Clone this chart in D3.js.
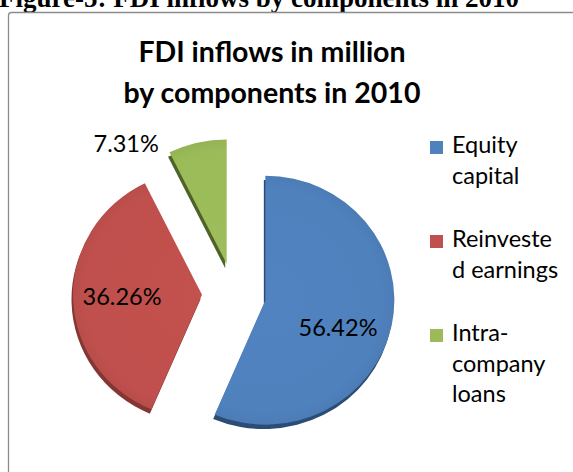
<!DOCTYPE html>
<html>
<head>
<meta charset="utf-8">
<script src="https://cdn.jsdelivr.net/npm/d3@7"></script>
<style>
  body { margin: 0; background: #fff; }
  svg { display: block; }
</style>
</head>
<body>
<div id="container"></div>
<script>
// data
let categories = ["Equity capital", "Reinvested earnings", "Intra-company loans"];
let shares = [56.42, 36.26, 7.31];
let legendLines = [["Equity", "capital"], ["Reinveste", "d earnings"], ["Intra-", "company", "loans"]];
let titleLines = ["FDI inflows in million", "by components in 2010"];
let caption = "Figure-5: FDI inflows by components in 2010";

let colors = ["#4f81bd", "#c0504d", "#9bbb59"];
let sideColors = ["#2b4c74", "#833633", "#4f6228"];

let w = 573;
let h = 472;
let cx = 234;
let cy = 294;
let r = 129;
let squash = 0.965;
let explode = 32;

let viz = d3.select("#container")
  .append("svg")
  .attr("width", w)
  .attr("height", h);

// caption, cut off at the top like in the source
viz.append("text")
  .attr("x", -1)
  .attr("y", 7)
  .attr("font-family", "'Liberation Serif', 'Times New Roman', serif")
  .attr("font-weight", "bold")
  .attr("font-size", 27)
  .attr("fill", "#000")
  .text(caption);

// chart frame
viz.append("rect")
  .attr("x", 8.5)
  .attr("y", 12.5)
  .attr("width", 600)
  .attr("height", 500)
  .attr("rx", 3)
  .attr("fill", "#fff")
  .attr("stroke", "#8c8c8c")
  .attr("stroke-width", 1.3);

// title
viz.append("g").selectAll("text")
  .data(titleLines)
  .enter()
  .append("text")
  .attr("x", 272)
  .attr("y", function(d, i) { return 62 + i * 41; })
  .attr("text-anchor", "middle")
  .attr("font-family", "Lato, 'Open Sans', sans-serif")
  .attr("font-weight", "bold")
  .attr("font-size", 28.5)
  .attr("fill", "#000")
  .text(function(d) { return d; });

let pie = d3.pie().sort(null).startAngle(0).endAngle(2 * Math.PI);
let arcs = pie(shares);
let arc = d3.arc().innerRadius(0).outerRadius(r);

function offset(d) {
  let a = (d.startAngle + d.endAngle) / 2;
  return [explode * Math.sin(a), -explode * Math.cos(a)];
}

let pieGroup = viz.append("g")
  .attr("transform", "translate(" + cx + "," + cy + ") scale(1," + squash + ")");

// darker side to look like the 3D bevel
pieGroup.selectAll(".side")
  .data(arcs)
  .enter()
  .append("path")
  .attr("class", "side")
  .attr("d", arc)
  .attr("fill", function(d, i) { return sideColors[i]; })
  .attr("transform", function(d) {
    let o = offset(d);
    return "translate(" + (o[0] - 1.5) + "," + (o[1] + 4.5) + ")";
  });

let defs = viz.append("defs");
colors.forEach(function(c, i) {
  let g = defs.append("radialGradient")
    .attr("id", "grad" + i)
    .attr("gradientUnits", "userSpaceOnUse")
    .attr("cx", 0).attr("cy", 0).attr("r", r);
  g.append("stop").attr("offset", "0%").attr("stop-color", d3.color(c).brighter(0.05));
  g.append("stop").attr("offset", "90%").attr("stop-color", c);
  g.append("stop").attr("offset", "100%").attr("stop-color", d3.color(c).darker(0.12));
});

pieGroup.selectAll(".slice")
  .data(arcs)
  .enter()
  .append("path")
  .attr("class", "slice")
  .attr("d", arc)
  .attr("fill", function(d, i) { return "url(#grad" + i + ")"; })
  .attr("transform", function(d) {
    let o = offset(d);
    return "translate(" + o[0] + "," + o[1] + ")";
  });

// percentage labels, excel-style best fit
let labelRadius = [78, 80, 160];
let labelTurn = [0.17, 0, -0.45];
viz.append("g").selectAll("text")
  .data(arcs)
  .enter()
  .append("text")
  .attr("transform", function(d, i) {
    let o = offset(d);
    let a = (d.startAngle + d.endAngle) / 2 + labelTurn[i];
    let x = cx + o[0] + labelRadius[i] * Math.sin(a);
    let y = cy + (o[1] - labelRadius[i] * Math.cos(a)) * squash;
    return "translate(" + x + "," + y + ")";
  })
  .attr("text-anchor", "middle")
  .attr("dy", "0.36em")
  .attr("font-family", "Lato, 'Open Sans', sans-serif")
  .attr("font-size", 23.5)
  .attr("fill", "#000")
  .text(function(d) { return d.data.toFixed(2) + "%"; });

// legend
let legend = viz.append("g").attr("transform", "translate(430,0)");
let legendItems = legend.selectAll(".item")
  .data(categories)
  .enter()
  .append("g")
  .attr("class", "item")
  .attr("transform", function(d, i) { return "translate(0," + (153 + i * 94) + ")"; });

legendItems.append("rect")
  .attr("x", 0)
  .attr("y", -12)
  .attr("width", 13)
  .attr("height", 13)
  .attr("fill", function(d, i) { return colors[i]; });

legendItems.append("text")
  .attr("font-family", "Lato, 'Open Sans', sans-serif")
  .attr("font-size", 23.5)
  .attr("fill", "#000")
  .selectAll("tspan")
  .data(function(d, i) { return legendLines[i]; })
  .enter()
  .append("tspan")
  .attr("x", 22)
  .attr("y", function(d, j) { return j * 30.5; })
  .text(function(d) { return d; });
</script>
</body>
</html>
